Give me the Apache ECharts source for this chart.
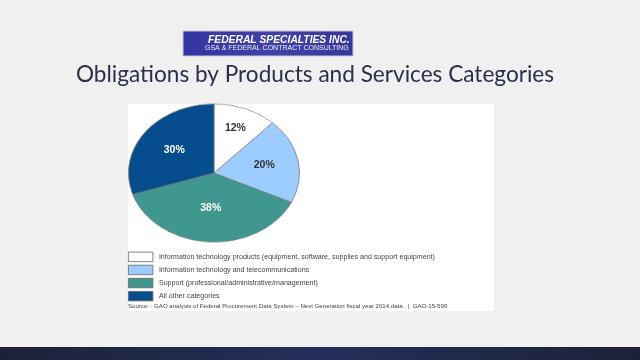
<!DOCTYPE html>
<html><head><meta charset="utf-8">
<script src="https://cdn.jsdelivr.net/npm/echarts@6/dist/echarts.min.js"></script>
<style>
html,body{margin:0;padding:0;background:#eff0ef;}
#wrap{position:relative;width:640px;height:360px;overflow:hidden;}
#a,#c{position:absolute;left:0;top:0;width:640px;height:360px;}
#b{position:absolute;left:127.5px;top:87px;width:172px;height:172px;transform:scaleY(0.807);transform-origin:50% 50%;}
#c{pointer-events:none;}
</style></head>
<body><div id="wrap"><div id="a"></div><div id="b"></div><div id="c"></div></div>
<script>
const categories = [
  'Information technology products (equipment, software, supplies and support equipment)',
  'Information technology and telecommunications',
  'Support (professional/administrative/management)',
  'All other categories'
];
const shares = [12, 20, 38, 30];
const sliceColors = ['#ffffff', '#9dcdff', '#3f978f', '#054d8d'];
const labelColors = ['#333333', '#333333', '#ffffff', '#ffffff'];
const titleText = 'Obligations by Products and Services Categories';
const sourceText = 'Source: : GAO analysis of Federal Procurement Data System \u2013 Next Generation fiscal year 2014 data.  |  GAO-15-590';

const CX = 213.5, CY = 173, R = 85.5, SY = 0.807;
// radial push of each inside label, relative to ECharts' default mid-radius spot
const labelPush = [1.3, 1.13, 0.95, 1.06];

// Chart A: background, panel, logo, title, bottom bar
const a = echarts.init(document.getElementById('a'), null, {renderer:'canvas'});
a.setOption({
  backgroundColor: '#eff0ef',
  graphic: [
    {type:'rect', shape:{x:128, y:104, width:366, height:207}, style:{fill:'#ffffff'}},
    {type:'rect', shape:{x:183, y:31, width:170, height:25}, style:{
      fill:{type:'linear', x:0, y:0, x2:1, y2:0, colorStops:[{offset:0,color:'#3434a0'},{offset:0.5,color:'#3f42a8'},{offset:1,color:'#35379c'}]},
      stroke:'#c8c8d8', lineWidth:1}},
    {type:'text', x:208, y:40, style:{text:'FEDERAL SPECIALTIES INC.', fill:'#ffffff', font:'italic bold 10.3px "Liberation Sans", Arial', textVerticalAlign:'middle'}},
    {type:'text', x:205, y:48.5, scaleX:1.0, style:{text:'GSA & FEDERAL CONTRACT CONSULTING', fill:'#eeeef8', font:'7px "Liberation Sans", Arial', textVerticalAlign:'middle'}},
    {type:'text', x:315, y:75, style:{text:titleText, fill:'#2a2f4c', font:'22.6px Lato, "Open Sans", sans-serif', textAlign:'center', textVerticalAlign:'middle'}},
    {type:'rect', shape:{x:0, y:347, width:640, height:13}, style:{
      fill:{type:'linear', x:0, y:0, x2:1, y2:0, colorStops:[{offset:0,color:'#1d2138'},{offset:0.5,color:'#24305a'},{offset:1,color:'#1d2138'}]}}}
  ]
});

// Chart B: pie, drawn as circle then squeezed into the reference's ellipse
const b = echarts.init(document.getElementById('b'));
b.setOption({
  animation:false,
  series:[{
    type:'pie', center:['50%','50%'], radius:[0, R], startAngle:90, clockwise:true,
    label:{show:false}, labelLine:{show:false}, silent:true,
    itemStyle:{borderColor:'#7a7a7a', borderWidth:0.8},
    data: categories.map((n,i)=>({name:n, value:shares[i], itemStyle:{color:sliceColors[i]}}))
  }]
});

// Chart C: labels, legend and source text
const c = echarts.init(document.getElementById('c'));
c.setOption({
  animation:false,
  legend:{
    orient:'vertical', left:128, top:251.7, padding:0, itemWidth:24.5, itemHeight:9.5, itemGap:2.8,
    icon:'rect', selectedMode:false,
    textStyle:{fontSize:7.1, color:'#444', fontFamily:'"Liberation Sans", Arial', padding:[0,0,0,1]},
    data: categories.map((n,i)=>({name:n, itemStyle:{color:sliceColors[i], opacity:1, borderColor:'#666', borderWidth:0.8}}))
  },
  graphic:[
    {type:'text', x:128, y:306.5, style:{text:sourceText, fill:'#444', font:'6.1px "Liberation Sans", Arial', textVerticalAlign:'middle'}}
  ],
  series:[{
    type:'pie', center:[CX, CY], radius:[0, R], startAngle:90, clockwise:true, silent:true,
    itemStyle:{color:'rgba(0,0,0,0)', borderWidth:0},
    label:{show:true, position:'inside', formatter:'{c}%', fontSize:10.5, fontWeight:'bold', fontFamily:'"Liberation Sans", Arial'},
    labelLine:{show:false},
    labelLayout: function(p){
      const r = p.labelRect;
      const k = labelPush[p.dataIndex];
      const lx = r.x + r.width/2, ly = r.y + r.height/2;
      return {x: CX + (lx - CX)*k, y: CY + (ly - CY)*SY*k};
    },
    data: categories.map((n,i)=>({name:n, value:shares[i], label:{color:labelColors[i]}}))
  }]
});
</script></body></html>
